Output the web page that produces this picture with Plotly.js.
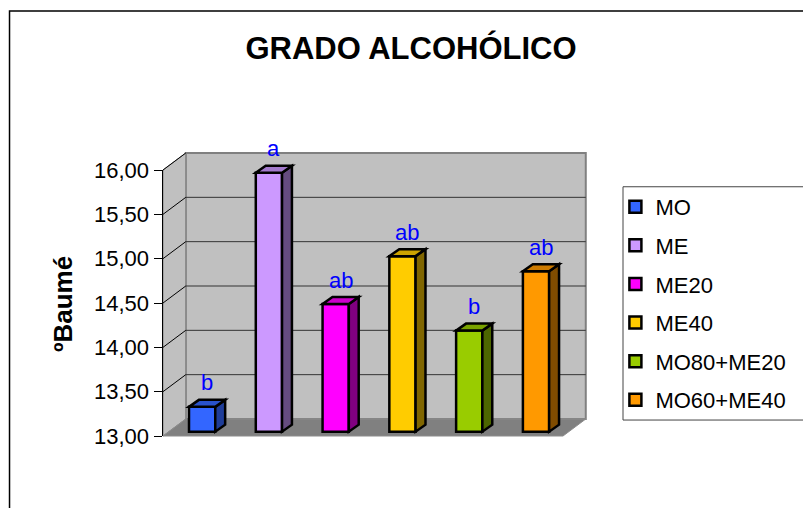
<!DOCTYPE html>
<html>
<head>
<meta charset="utf-8">
<script src="https://cdn.plot.ly/plotly-3.0.1.min.js"></script>
<style>html,body{margin:0;padding:0;background:#fff;}#chart{width:803px;height:508px;}</style>
</head>
<body>
<div id="chart"></div>
<script>
// ---- data ----
const categories = ['MO', 'ME', 'ME20', 'ME40', 'MO80+ME20', 'MO60+ME40'];
const values = [13.28, 15.92, 14.44, 14.98, 14.14, 14.81];
const letters = ['b', 'a', 'ab', 'ab', 'b', 'ab'];
const tickValues = [13, 13.5, 14, 14.5, 15, 15.5, 16];

// ---- styles ----
const frontColors = ['#3366FF', '#CC99FF', '#FF00FF', '#FFCC00', '#99CC00', '#FF9900'];
const topColors   = ['#2952CC', '#A37ACC', '#CC00CC', '#CCA300', '#7AA300', '#CC7A00'];
const sideColors  = ['#1F3D99', '#664C80', '#800080', '#806600', '#4C6600', '#804C00'];
const FONT = 'Liberation Sans, Arial, sans-serif';

// geometry (pseudo-3D)
const XR = [-0.586, 5.404];
const BAR_W = 0.393;
const YR = [13, 16];
const PLANE = 0.0485;              // bar plane lifted above axis plane
const Y2R = [YR[0] - PLANE, YR[1] - PLANE];
const DX = 23 / 404, DY = 17 / 266;  // wall depth in paper units
const BDX = 10 / 404, BDY = 7 / 266; // bar depth in paper units
const BASE = 13;

const traces = categories.map((c, i) => ({
  type: 'bar',
  name: c,
  legendgroup: c,
  x: [c],
  y: [values[i] - BASE],
  base: BASE,
  yaxis: 'y2',
  width: BAR_W,
  marker: {color: frontColors[i], line: {color: '#000', width: 2.5}},
  hoverinfo: 'skip'
}));
// invisible trace so the value axis (y) is drawn
traces.unshift({type: 'scatter', x: [categories[0]], y: [YR[0]], mode: 'markers',
  marker: {opacity: 0}, showlegend: false, hoverinfo: 'skip', cliponaxis: true});

const fy = v => (v - YR[0]) / (YR[1] - YR[0]);
const fy2 = v => (v - Y2R[0]) / (Y2R[1] - Y2R[0]);
const fx = i => (i - XR[0]) / (XR[1] - XR[0]);
const hw = (BAR_W / 2) / (XR[1] - XR[0]);

const shapes = [];
// back wall
shapes.push({type: 'rect', xref: 'paper', yref: 'paper', layer: 'below',
  x0: DX, x1: 1 + DX, y0: DY, y1: 1 + DY,
  fillcolor: '#C0C0C0', line: {color: '#808080', width: 2}});
// side wall
shapes.push({type: 'path', xref: 'paper', yref: 'paper', layer: 'below',
  path: `M0,0 L0,1 L${DX},${1 + DY} L${DX},${DY} Z`,
  fillcolor: '#C0C0C0', line: {color: '#808080', width: 1}});
// floor
shapes.push({type: 'path', xref: 'paper', yref: 'paper', layer: 'below',
  path: `M0,0 L1,0 L${1 + DX},${DY} L${DX},${DY} Z`,
  fillcolor: '#808080', line: {color: '#8C8C8C', width: 1}});
// gridlines on back wall + diagonals on side wall
tickValues.forEach(v => {
  const f = fy(v);
  if (v > YR[0] && v < YR[1]) {
    shapes.push({type: 'line', xref: 'paper', yref: 'paper', layer: 'below',
      x0: DX, x1: 1 + DX, y0: f + DY, y1: f + DY, line: {color: '#333', width: 1}});
  }
  if (v > YR[0]) {
    shapes.push({type: 'line', xref: 'paper', yref: 'paper', layer: 'below',
      x0: 0, x1: DX, y0: f, y1: f + DY, line: {color: '#000', width: 1}});
  }
});
// bar top and side faces
values.forEach((v, i) => {
  const xl = fx(i) - hw, xr = fx(i) + hw;
  const yt = fy2(v), yb = fy2(BASE);
  shapes.push({type: 'path', xref: 'paper', yref: 'paper', layer: 'above',
    path: `M${xr},${yb} L${xr},${yt} L${xr + BDX},${yt + BDY} L${xr + BDX},${yb + BDY} Z`,
    fillcolor: sideColors[i], line: {color: '#000', width: 2.5}});
  shapes.push({type: 'path', xref: 'paper', yref: 'paper', layer: 'above',
    path: `M${xl},${yt} L${xr},${yt} L${xr + BDX},${yt + BDY} L${xl + BDX},${yt + BDY} Z`,
    fillcolor: topColors[i], line: {color: '#000', width: 2.5}});
});
// legend box
shapes.push({type: 'rect', xref: 'paper', yref: 'paper', layer: 'below',
  x0: 1.150, x1: 1.7, y0: 0.060, y1: 0.937,
  fillcolor: 'rgba(0,0,0,0)', line: {color: '#444', width: 1}});
// chart area border
shapes.push({type: 'rect', xref: 'paper', yref: 'paper', layer: 'below',
  x0: -0.3837, x1: 1.8, y0: -0.5, y1: 1.5977,
  fillcolor: 'rgba(0,0,0,0)', line: {color: '#000', width: 1.5}});

const annotations = values.map((v, i) => ({
  x: categories[i], y: v, xref: 'x', yref: 'y2',
  text: letters[i], showarrow: false,
  xanchor: 'center', yanchor: 'middle', xshift: 5, yshift: 24,
  font: {family: FONT, size: 22, color: '#0000FF'}
}));
annotations.push({
  xref: 'paper', yref: 'paper', x: (62 - 163) / 404, y: 0.496,
  text: '<b>ºBaumé</b>', showarrow: false, textangle: -90,
  xanchor: 'center', yanchor: 'middle',
  font: {family: FONT, size: 26, color: '#000'}
});

const layout = {
  width: 803, height: 508,
  margin: {l: 163, r: 236, t: 170, b: 72},
  paper_bgcolor: '#fff', plot_bgcolor: 'rgba(0,0,0,0)',
  separators: ',.',
  barmode: 'overlay',
  showlegend: true,
  title: {text: '<b>GRADO ALCOHÓLICO</b>', xref: 'container', yref: 'container',
    x: 411 / 803, y: 1 - 48 / 508, xanchor: 'center', yanchor: 'middle',
    font: {family: FONT, size: 31, color: '#000'}},
  xaxis: {type: 'category', categoryarray: categories, categoryorder: 'array',
    range: XR, showticklabels: false, showgrid: false,
    zeroline: false, showline: false, ticks: '', fixedrange: true},
  yaxis: {range: YR, tickvals: tickValues, tickformat: '.2f', showgrid: false,
    zeroline: false, showline: true, linecolor: '#000', linewidth: 1.5,
    ticks: 'outside', ticklen: 8, tickcolor: '#000', tickwidth: 1,
    tickfont: {family: FONT, size: 22, color: '#000'}, fixedrange: true},
  yaxis2: {overlaying: 'y', range: Y2R, visible: false, fixedrange: true},
  legend: {x: 1.131, y: 0.94, xanchor: 'left', yanchor: 'top',
    bgcolor: 'rgba(0,0,0,0)', borderwidth: 0, tracegroupgap: 7,
    font: {family: FONT, size: 22, color: '#000'}},
  shapes: shapes,
  annotations: annotations
};

Plotly.newPlot('chart', traces, layout, {displayModeBar: false, staticPlot: true});
</script>
</body>
</html>
